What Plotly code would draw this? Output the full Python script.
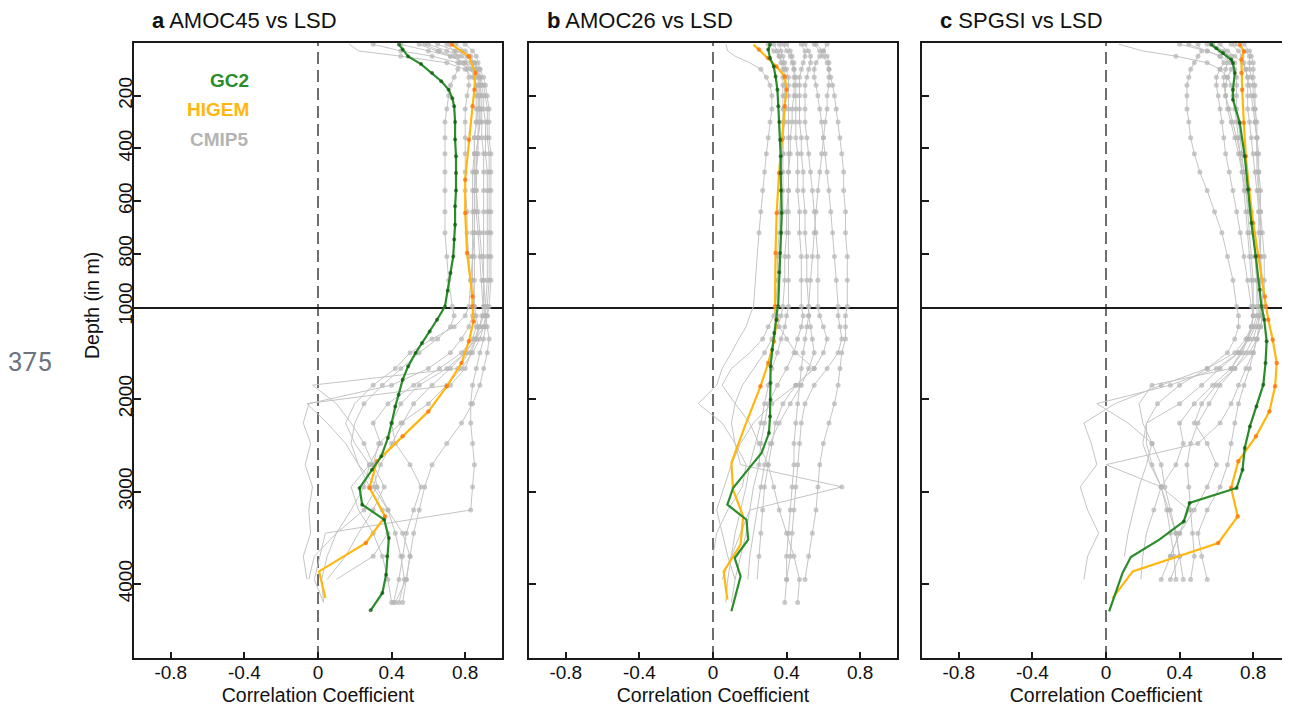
import plotly.graph_objects as go

# ---------------- data ----------------
PANEL_LETTERS = ["a", "b", "c"]
PANEL_TITLES = ["AMOC45 vs LSD", "AMOC26 vs LSD", "SPGSI vs LSD"]
X_TICKS = [-0.8, -0.4, 0, 0.4, 0.8]
X_TICK_TEXT = ["-0.8", "-0.4", "0", "0.4", "0.8"]
Y_TICKS_UPPER = [200, 400, 600, 800, 1000]
Y_TICKS_LOWER = [2000, 3000, 4000]
SERIES_NAMES = ["GC2", "HIGEM", "CMIP5"]

# common depth levels (m) of the CMIP5 profiles
ZA = [5, 30, 50, 75, 100, 130, 160, 200, 250, 300, 360, 420, 490, 560, 640, 720, 810, 900, 1000,
      1100, 1220, 1350, 1500, 1670, 1850, 2050, 2260, 2480, 2710, 2950, 3200, 3450, 3700, 3950, 4200]

GC2_DEPTH = [
    [6, 25, 51, 80, 114, 145, 177, 210, 240, 300, 366, 430, 493, 560, 620, 690, 746, 810, 873, 940,
     1000, 1143, 1269, 1395, 1503, 1647, 1791, 1954, 2080, 2260, 2422, 2620, 2764, 2962, 3142, 3305,
     3503, 3701, 3899, 4097, 4285],
    [6, 25, 57, 89, 127, 177, 240, 300, 367, 430, 493, 560, 645, 720, 797, 870, 1000, 1143, 1287,
     1467, 1647, 1827, 2008, 2188, 2368, 2584, 2764, 2962, 3142, 3305, 3521, 3719, 3917, 4295],
    [6, 20, 38, 63, 76, 114, 177, 215, 303, 430, 556, 683, 809, 936, 1000, 1143, 1377, 1611, 1845,
     2080, 2296, 2530, 2764, 2962, 3124, 3323, 3521, 3708, 3881, 4295],
]
GC2_CORR = [
    [0.44, 0.46, 0.49, 0.56, 0.62, 0.67, 0.71, 0.73, 0.74, 0.745, 0.745, 0.75, 0.75, 0.75, 0.745,
     0.745, 0.74, 0.735, 0.72, 0.705, 0.69, 0.647, 0.607, 0.565, 0.53, 0.49, 0.46, 0.438, 0.42, 0.40,
     0.38, 0.344, 0.293, 0.226, 0.24, 0.36, 0.385, 0.376, 0.37, 0.35, 0.286],
    [0.31, 0.30, 0.31, 0.33, 0.34, 0.35, 0.355, 0.36, 0.365, 0.368, 0.368, 0.37, 0.373, 0.37, 0.365,
     0.36, 0.355, 0.345, 0.333, 0.322, 0.313, 0.313, 0.313, 0.31, 0.304, 0.264, 0.19, 0.109, 0.078,
     0.182, 0.191, 0.118, 0.15, 0.10],
    [0.572, 0.60, 0.636, 0.68, 0.69, 0.70, 0.69, 0.69, 0.727, 0.754, 0.772, 0.79, 0.814, 0.836,
     0.845, 0.86, 0.873, 0.867, 0.855, 0.818, 0.782, 0.754, 0.742, 0.71, 0.454, 0.423, 0.29, 0.135,
     0.09, 0.017],
]

HIGEM_DEPTH = [
    [6, 51, 114, 177, 240, 367, 519, 645, 797, 962, 1000, 1161, 1377, 1611, 1863, 2134, 2404, 2674,
     2962, 3269, 3557, 3864, 4151],
    [6, 25, 57, 89, 127, 177, 240, 367, 493, 645, 797, 1000, 1143, 1377, 1611, 1863, 2296, 2692,
     2980, 3269, 3575, 3864, 4170],
    [6, 32, 63, 114, 177, 303, 430, 556, 683, 809, 962, 1000, 1143, 1359, 1611, 1863, 2134, 2404,
     2674, 2962, 3269, 3557, 3864, 4152],
]
HIGEM_CORR = [
    [0.728, 0.82, 0.855, 0.85, 0.84, 0.82, 0.80, 0.80, 0.81, 0.84, 0.84, 0.845, 0.82, 0.78, 0.70,
     0.60, 0.46, 0.32, 0.28, 0.365, 0.26, 0.006, 0.04],
    [0.22, 0.25, 0.30, 0.345, 0.39, 0.40, 0.39, 0.373, 0.359, 0.346, 0.34, 0.337, 0.346, 0.331, 0.30,
     0.258, 0.173, 0.10, 0.109, 0.164, 0.15, 0.058, 0.078],
    [0.727, 0.749, 0.736, 0.736, 0.74, 0.749, 0.76, 0.778, 0.80, 0.828, 0.864, 0.87, 0.882, 0.906,
     0.928, 0.919, 0.888, 0.815, 0.719, 0.68, 0.716, 0.61, 0.145, 0.036],
]

CMIP5_A = [
    [0.17, 0.22, 0.45, 0.70, 0.80, 0.84, 0.86, 0.87, 0.88, 0.88, 0.87, 0.86, 0.86, 0.85, 0.85, 0.85, 0.84, 0.83, 0.82,
     0.80, 0.74, 0.62, 0.50, 0.42, 0.30, 0.20, 0.15, 0.20, 0.28, 0.25, 0.18, 0.10, 0.05, 0.02, 0.03],
    [0.30, 0.45, 0.62, 0.76, 0.84, 0.88, 0.90, 0.91, 0.92, 0.92, 0.92, 0.93, 0.93, 0.93, 0.93, 0.93, 0.93, 0.93, 0.92,
     0.92, 0.91, 0.90, 0.88, 0.86, 0.84, 0.83, 0.83, 0.84, 0.85, 0.84, 0.83, 0.04, 0.01, -0.02, 0.03],
    [0.55, 0.65, 0.72, 0.80, 0.85, 0.87, 0.88, 0.89, 0.89, 0.89, 0.89, 0.90, 0.90, 0.90, 0.90, 0.90, 0.90, 0.90, 0.90,
     0.89, 0.88, 0.86, 0.83, 0.80, 0.72, -0.06, 0.05, 0.15, 0.22, 0.28, 0.35, 0.38, 0.30, 0.10],
    [0.60, 0.70, 0.78, 0.83, 0.86, 0.88, 0.88, 0.88, 0.87, 0.86, 0.85, 0.85, 0.84, 0.84, 0.84, 0.84, 0.84, 0.84, 0.85,
     0.86, 0.87, 0.86, 0.82, 0.76, -0.03, 0.10, 0.18, 0.25, 0.30, 0.32, 0.38, 0.42, 0.45, 0.47, 0.44],
    [0.72, 0.78, 0.82, 0.85, 0.87, 0.88, 0.89, 0.90, 0.90, 0.91, 0.91, 0.91, 0.92, 0.92, 0.92, 0.92, 0.92, 0.92, 0.91,
     0.90, 0.88, 0.85, 0.80, 0.70, 0.55, 0.45, 0.40, 0.42, 0.50, 0.56, 0.52, 0.48, 0.46, 0.44, 0.41],
    [0.70, 0.74, 0.76, 0.77, 0.76, 0.74, 0.72, 0.71, 0.70, 0.69, 0.69, 0.69, 0.69, 0.69, 0.69, 0.69, 0.70, 0.71, 0.73,
     0.74, 0.72, 0.65, 0.55, 0.45, 0.35, 0.25, 0.20, 0.18, 0.22, 0.32, 0.25, 0.10, -0.02, -0.05],
    [0.80, 0.84, 0.86, 0.87, 0.88, 0.88, 0.88, 0.88, 0.88, 0.88, 0.87, 0.87, 0.86, 0.86, 0.86, 0.87, 0.88, 0.89, 0.90,
     0.91, 0.92, 0.93, 0.92, 0.90, 0.88, 0.84, 0.78, 0.70, 0.62, 0.58, 0.55, 0.52, 0.50, 0.48, 0.46],
    [0.45, 0.60, 0.72, 0.80, 0.83, 0.85, 0.86, 0.86, 0.86, 0.86, 0.85, 0.85, 0.85, 0.85, 0.85, 0.85, 0.85, 0.85, 0.85,
     0.84, 0.82, 0.78, 0.72, 0.60, 0.40, -0.05, -0.08, -0.04, -0.07, -0.03, -0.05, -0.04, -0.08, -0.06],
    [0.75, 0.80, 0.83, 0.85, 0.86, 0.87, 0.87, 0.87, 0.87, 0.87, 0.87, 0.86, 0.86, 0.86, 0.87, 0.88, 0.89, 0.90, 0.91,
     0.91, 0.90, 0.88, 0.84, 0.78, 0.70, 0.60, 0.45, 0.33, 0.30, 0.36, 0.30, 0.22, 0.15, 0.05],
    [0.65, 0.75, 0.81, 0.85, 0.88, 0.90, 0.91, 0.92, 0.93, 0.93, 0.93, 0.94, 0.94, 0.94, 0.94, 0.94, 0.94, 0.94, 0.93,
     0.92, 0.90, 0.86, 0.80, 0.72, 0.62, 0.52, 0.46, 0.40, 0.34, 0.30, 0.38, 0.46, 0.50, 0.48, 0.42],
    [0.58, 0.66, 0.74, 0.79, 0.81, 0.82, 0.82, 0.81, 0.80, 0.80, 0.80, 0.80, 0.80, 0.80, 0.81, 0.81, 0.82, 0.83, 0.84,
     0.85, 0.86, 0.84, 0.78, 0.66, 0.52, 0.38, 0.30, 0.34, 0.28, 0.18, 0.22, 0.30, 0.35, 0.38, 0.40],
]

CMIP5_B = [
    [0.07, 0.08, 0.12, 0.20, 0.26, 0.29, 0.31, 0.32, 0.32, 0.31, 0.30, 0.29, 0.28, 0.27, 0.26, 0.25, 0.24, 0.23, 0.22,
     0.20, 0.18, 0.14, 0.10, 0.05, 0.02, -0.08, 0.05, 0.12, 0.18, 0.16, 0.08, 0.02, 0.0],
    [0.36, 0.37, 0.38, 0.39, 0.40, 0.41, 0.41, 0.41, 0.41, 0.41, 0.41, 0.41, 0.41, 0.41, 0.41, 0.41, 0.41, 0.41, 0.41,
     0.40, 0.39, 0.37, 0.35, 0.32, 0.30, 0.28, 0.26, 0.23, 0.20, 0.18, 0.15, 0.12, 0.10, 0.08, 0.07],
    [0.38, 0.40, 0.42, 0.43, 0.44, 0.45, 0.45, 0.45, 0.45, 0.45, 0.45, 0.46, 0.46, 0.46, 0.47, 0.47, 0.48, 0.48, 0.48,
     0.49, 0.48, 0.46, 0.44, 0.40, 0.35, 0.30, 0.28, 0.26, 0.25, 0.22, 0.20, 0.18, 0.15, 0.12, 0.10],
    [0.33, 0.35, 0.36, 0.37, 0.38, 0.38, 0.38, 0.38, 0.38, 0.38, 0.38, 0.38, 0.38, 0.38, 0.38, 0.37, 0.36, 0.35, 0.34,
     0.33, 0.30, 0.27, 0.20, 0.10, 0.05, 0.12, 0.20, 0.25, 0.30, 0.33, 0.36, 0.40, 0.44, 0.47, 0.46],
    [0.56, 0.60, 0.62, 0.63, 0.63, 0.63, 0.63, 0.62, 0.62, 0.61, 0.60, 0.59, 0.58, 0.57, 0.56, 0.55, 0.54, 0.53, 0.52,
     0.52, 0.51, 0.50, 0.49, 0.48, 0.47, 0.46, 0.45, 0.44, 0.44, 0.43, 0.42, 0.41, 0.40, 0.40, 0.39],
    [0.62, 0.60, 0.58, 0.56, 0.55, 0.55, 0.56, 0.57, 0.58, 0.59, 0.60, 0.61, 0.62, 0.63, 0.64, 0.65, 0.66, 0.67, 0.68,
     0.68, 0.69, 0.70, 0.68, 0.62, 0.55, 0.50, 0.48, 0.47, 0.46, 0.45, 0.44, 0.43, 0.42, 0.40],
    [0.55, 0.58, 0.60, 0.62, 0.63, 0.64, 0.65, 0.66, 0.67, 0.68, 0.69, 0.70, 0.71, 0.71, 0.72, 0.72, 0.73, 0.73, 0.73,
     0.72, 0.72, 0.72, 0.70, 0.69, 0.68, 0.66, 0.63, 0.60, 0.58, 0.57, 0.56, 0.54, 0.52, 0.50],
    [0.50, 0.52, 0.53, 0.53, 0.52, 0.51, 0.50, 0.50, 0.50, 0.50, 0.51, 0.52, 0.53, 0.54, 0.55, 0.56, 0.57, 0.57, 0.57,
     0.58, 0.60, 0.62, 0.60, 0.55, 0.45, 0.38, 0.34, 0.32, 0.30, 0.28, 0.27, 0.26, 0.25, 0.24],
    [0.40, 0.42, 0.43, 0.44, 0.44, 0.44, 0.44, 0.44, 0.43, 0.43, 0.42, 0.42, 0.41, 0.41, 0.40, 0.40, 0.39, 0.39, 0.38,
     0.37, 0.35, 0.32, 0.28, 0.22, 0.16, 0.12, 0.10, 0.12, 0.15, 0.70, 0.20, 0.15, 0.10, 0.05],
    [0.48, 0.50, 0.50, 0.49, 0.48, 0.47, 0.47, 0.47, 0.47, 0.47, 0.48, 0.48, 0.49, 0.49, 0.50, 0.50, 0.51, 0.51, 0.52,
     0.52, 0.53, 0.54, 0.55, 0.52, 0.48, 0.42, 0.36, 0.31, 0.28, 0.26, 0.24, 0.22, 0.20, 0.19],
    [0.30, 0.33, 0.36, 0.38, 0.39, 0.39, 0.39, 0.39, 0.39, 0.39, 0.38, 0.38, 0.37, 0.37, 0.36, 0.36, 0.35, 0.35, 0.35,
     0.35, 0.36, 0.40, 0.45, 0.55, 0.45, 0.32, 0.22, 0.15, 0.10, 0.06, 0.02, 0.05, 0.08, 0.12],
]

CMIP5_C = [
    [0.07, 0.20, 0.38, 0.55, 0.62, 0.66, 0.68, 0.69, 0.70, 0.71, 0.72, 0.73, 0.74, 0.75, 0.76, 0.77, 0.78, 0.79, 0.80,
     0.80, 0.79, 0.77, 0.72, 0.60, 0.35, -0.05, 0.12, 0.25, 0.30, 0.32, 0.35, 0.38, 0.40, 0.42],
    [0.50, 0.52, 0.50, 0.48, 0.46, 0.45, 0.44, 0.44, 0.44, 0.45, 0.46, 0.48, 0.51, 0.55, 0.59, 0.63, 0.66, 0.69, 0.71,
     0.72, 0.72, 0.70, 0.66, 0.55, 0.40, 0.28, 0.22, 0.22, 0.25, 0.30, 0.33, 0.35, 0.37, 0.38],
    [0.40, 0.55, 0.62, 0.64, 0.62, 0.60, 0.60, 0.61, 0.62, 0.63, 0.64, 0.65, 0.67, 0.69, 0.71, 0.73, 0.75, 0.77, 0.79,
     0.80, 0.79, 0.77, 0.74, 0.68, 0.58, 0.48, 0.40, 0.42, 0.38, 0.30, 0.26, 0.22, 0.20, 0.19],
    [0.62, 0.66, 0.70, 0.74, 0.76, 0.77, 0.77, 0.77, 0.77, 0.78, 0.79, 0.80, 0.81, 0.82, 0.83, 0.84, 0.84, 0.85, 0.85,
     0.85, 0.84, 0.82, 0.78, 0.70, 0.60, 0.52, 0.48, 0.55, 0.60, 0.55, 0.48, 0.40, 0.35, 0.30],
    [0.70, 0.76, 0.78, 0.78, 0.78, 0.79, 0.80, 0.80, 0.81, 0.82, 0.82, 0.83, 0.83, 0.84, 0.84, 0.84, 0.84, 0.84, 0.84,
     0.84, 0.82, 0.80, 0.76, 0.70, 0.62, 0.56, 0.50, 0.46, 0.44, 0.45, 0.46, 0.47, 0.48, 0.46],
    [0.55, 0.62, 0.68, 0.70, 0.68, 0.66, 0.65, 0.65, 0.66, 0.68, 0.70, 0.72, 0.74, 0.76, 0.78, 0.80, 0.81, 0.82, 0.82,
     0.82, 0.80, 0.77, 0.73, 0.68, 0.25, 0.18, 0.20, 0.25, 0.22, 0.18, 0.15, 0.12, 0.10],
    [0.45, 0.55, 0.62, 0.68, 0.70, 0.71, 0.71, 0.71, 0.71, 0.72, 0.73, 0.74, 0.75, 0.76, 0.77, 0.78, 0.79, 0.80, 0.80,
     0.80, 0.79, 0.76, 0.70, 0.55, 0.30, 0.05, -0.12, -0.08, -0.05, -0.14, -0.10, -0.04, -0.10, -0.12],
    [0.68, 0.72, 0.74, 0.75, 0.76, 0.77, 0.78, 0.79, 0.80, 0.81, 0.82, 0.82, 0.83, 0.83, 0.84, 0.85, 0.86, 0.86, 0.86,
     0.85, 0.84, 0.82, 0.80, 0.76, 0.72, 0.68, 0.62, 0.50, 0.0, 0.30, 0.45, 0.40, 0.35],
    [0.58, 0.64, 0.66, 0.66, 0.65, 0.64, 0.64, 0.65, 0.67, 0.69, 0.71, 0.73, 0.75, 0.77, 0.79, 0.80, 0.81, 0.82, 0.83,
     0.83, 0.83, 0.82, 0.80, 0.78, 0.75, 0.72, 0.70, 0.68, 0.66, 0.62, 0.55, 0.50, 0.52, 0.55],
    [0.75, 0.78, 0.79, 0.80, 0.80, 0.80, 0.81, 0.81, 0.81, 0.81, 0.82, 0.82, 0.82, 0.83, 0.83, 0.83, 0.84, 0.84, 0.84,
     0.83, 0.81, 0.78, 0.72, 0.62, 0.52, 0.40, 0.22, 0.20, 0.24, 0.30, 0.34, 0.38, 0.40, 0.35],
]
CMIP5 = [CMIP5_A, CMIP5_B, CMIP5_C]

# correlation magnitude above which a level is marked as significant
SIG_GC2 = [0.2, 0.3, 0.4]
SIG_HIGEM = [0.2, 0.25, 0.3]
SIG_CMIP5 = 0.25

# ---------------- styling / layout ----------------
# the page body has an 8px margin, so the figure is drawn 8px smaller and
# all reference pixel positions are shifted by that offset
OFF = 8
W, H = 1290 - OFF, 709 - OFF
ML, MT = 134 - OFF, 43 - OFF
MR = 0
MB = H - (658 - OFF)
PW, PH = W - ML - MR, H - MT - MB
FONT = "Liberation Sans, Arial, Helvetica, sans-serif"

C_GC2_LINE, C_GC2_MK = "#2a8c2a", "#0b5a0b"
C_HI_LINE, C_HI_MK = "#ffb60f", "#ff6a00"
C_GRAY_LINE, C_GRAY_MK = "#c4c4c4", "#b3b3b3"

PANEL_PX = [(134, 502), (529, 897), (922, 1290)]   # in reference (screen) pixels
UPPER_FRAC = 263.5 / 615.0


def px_x(px):
    return (px - OFF - ML) / PW


def px_y(py):
    return (H - MB - (py - OFF)) / PH


fig = go.Figure()


def axis_names(i):
    s = "" if i == 1 else str(i)
    return "x" + s, "y" + s


def add_series(p, depths, vals, lcol, lw, mcol, msize, thr):
    sizes = [msize if abs(v) >= thr else 0 for v in vals]
    for idx in (p + 1, p + 4):
        xa, ya = axis_names(idx)
        fig.add_trace(go.Scatter(
            x=list(vals), y=list(depths), mode="lines+markers",
            line=dict(color=lcol, width=lw),
            marker=dict(color=mcol, size=sizes, line=dict(width=0)),
            xaxis=xa, yaxis=ya, showlegend=False, hoverinfo="skip"))


for p in range(3):
    for prof in CMIP5[p]:
        d = ZA[:len(prof)]
        add_series(p, d, prof, C_GRAY_LINE, 1, C_GRAY_MK, 5, SIG_CMIP5)
    add_series(p, HIGEM_DEPTH[p], HIGEM_CORR[p], C_HI_LINE, 2.2, C_HI_MK, 4.5, SIG_HIGEM[p])
    add_series(p, GC2_DEPTH[p], GC2_CORR[p], C_GC2_LINE, 2.2, C_GC2_MK, 4, SIG_GC2[p])

layout = dict(
    width=W, height=H, autosize=False,
    margin=dict(l=ML, r=MR, t=MT, b=MB, pad=0, autoexpand=False),
    paper_bgcolor="white", plot_bgcolor="white",
    font=dict(family=FONT, size=19, color="#111"),
    showlegend=False,
)

tickfont = dict(family=FONT, size=19, color="#111")
for p in range(3):
    x0, x1 = PANEL_PX[p]
    dom = [px_x(x0), min(1.0, px_x(x1))]
    for row in (0, 1):
        idx = p + 1 + 3 * row
        xa, ya = axis_names(idx)
        xkey = "xaxis" + ("" if idx == 1 else str(idx))
        ykey = "yaxis" + ("" if idx == 1 else str(idx))
        ydom = [1 - UPPER_FRAC, 1] if row == 0 else [0, 1 - UPPER_FRAC]
        xax = dict(domain=dom, anchor=ya, range=[-1, 1], showgrid=False, zeroline=False,
                   showline=True, linecolor="#1a1a1a", linewidth=1.8,
                   fixedrange=True, automargin=False)
        if row == 0:
            xax.update(ticks="", showticklabels=False, mirror=True)
        else:
            xax.update(mirror=False, ticks="inside", ticklen=6, tickwidth=1.5, tickcolor="#1a1a1a",
                       tickvals=X_TICKS, ticktext=X_TICK_TEXT, tickfont=tickfont,
                       ticklabelstandoff=-4,
                       title=dict(text="Correlation Coefficient",
                                  font=dict(family=FONT, size=19.5), standoff=7))
        yax = dict(domain=ydom, anchor=xa, showgrid=False, zeroline=False,
                   showline=True, mirror=True, linecolor="#1a1a1a", linewidth=1.8,
                   ticks="inside", ticklen=7, tickwidth=1.5, tickcolor="#1a1a1a",
                   tickangle=-90, tickfont=tickfont, showticklabels=(p == 0),
                   ticklabelstandoff=-7, fixedrange=True, automargin=False)
        if row == 0:
            yax.update(range=[1000, 0], tickvals=Y_TICKS_UPPER,
                       ticktext=[str(v) for v in Y_TICKS_UPPER])
        else:
            yax.update(range=[4800, 1000], tickvals=Y_TICKS_LOWER,
                       ticktext=[str(v) for v in Y_TICKS_LOWER])
        layout[xkey] = xax
        layout[ykey] = yax

shapes = []
annotations = []
for p in range(3):
    xa, _ = axis_names(p + 4)
    shapes.append(dict(type="line", xref=xa, yref="paper", x0=0, x1=0, y0=0, y1=1,
                       line=dict(color="#6e6e6e", width=2, dash="12px,6px"), layer="below"))
    annotations.append(dict(
        text="<b>%s</b> %s" % (PANEL_LETTERS[p], PANEL_TITLES[p]),
        xref="paper", yref="paper", x=px_x(PANEL_PX[p][0] + 16), y=px_y(21),
        xanchor="left", yanchor="middle", showarrow=False,
        font=dict(family=FONT, size=22, color="#111")))

annotations.append(dict(text="Depth (in m)", xref="paper", yref="paper",
                        x=px_x(92), y=px_y(306), textangle=-90, showarrow=False,
                        xanchor="center", yanchor="middle",
                        font=dict(family=FONT, size=19.5, color="#111")))
annotations.append(dict(text="375", xref="paper", yref="paper", x=px_x(30), y=px_y(362),
                        showarrow=False, xanchor="center", yanchor="middle",
                        font=dict(family="Roboto, Open Sans, sans-serif", size=26, color="#6b7380")))

legend_cols = [C_GC2_LINE, C_HI_LINE, "#b4b4b4"]
legend_y = [81, 110, 139]
for name, col, ly in zip(SERIES_NAMES, legend_cols, legend_y):
    annotations.append(dict(text="<b>%s</b>" % name, xref="paper", yref="paper",
                            x=px_x(251), y=px_y(ly), xanchor="right", yanchor="middle",
                            showarrow=False, font=dict(family=FONT, size=19, color=col)))

layout["shapes"] = shapes
layout["annotations"] = annotations
fig.update_layout(**layout)

fig.write_html("out.html")
